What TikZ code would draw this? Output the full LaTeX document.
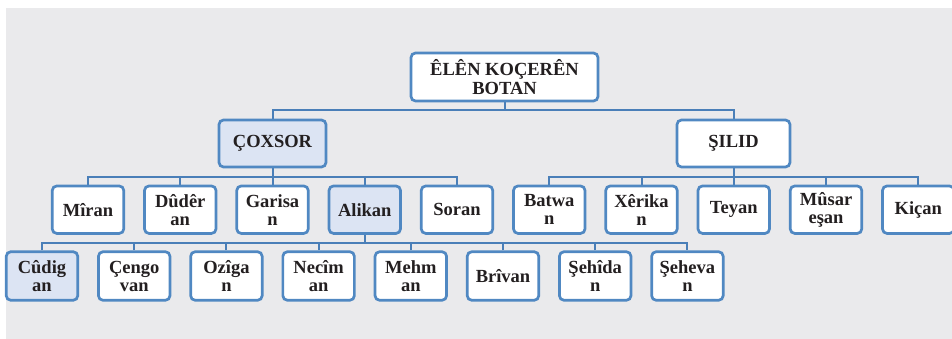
\documentclass[tikz,border=0pt]{standalone}
\usepackage{fontspec}
\setmainfont{Liberation Serif}
\usetikzlibrary{backgrounds}
\definecolor{panel}{HTML}{EAEAEC}
\definecolor{edge}{HTML}{5088C2}
\definecolor{wire}{HTML}{4A7FB8}
\definecolor{hilite}{HTML}{DCE4F3}
\definecolor{ink}{HTML}{231F20}
\tikzset{
  box/.style={draw=edge, line width=2.7pt, rounded corners=4.5pt, fill=white,
    align=center, inner sep=0pt, text=ink,
    font=\bfseries\fontsize{18.5}{18}\selectfont},
  small/.style={box, minimum width=71.5pt, minimum height=47.5pt},
  tinted/.style={fill=hilite},
  wire/.style={draw=wire, line width=2pt}
}
\begin{document}
\begin{tikzpicture}[x=1pt,y=-1pt]
\useasboundingbox (0,0) rectangle (952,339);

% root and first level
\node[box, minimum width=187pt, minimum height=48pt] (root) at (504.5,77) {ÊLÊN KOÇERÊN\\[1pt]BOTAN};
\node[box, tinted, minimum width=107pt, minimum height=47pt] (cox) at (272.5,143.5) {ÇOXSOR};
\node[box, minimum width=113pt, minimum height=47pt] (sil) at (733.5,143.5) {ŞILID};

% second level
\node[small] (miran) at (88,209.7) {Mîran};
\node[small] (duderan) at (180.25,209.7) {Dûdêr\\an};
\node[small] (garisan) at (272.5,209.7) {Garisa\\n};
\node[small, tinted] (alikan) at (364.75,209.7) {Alikan};
\node[small] (soran) at (457,209.7) {Soran};
\node[small] (batwan) at (549.25,209.7) {Batwa\\n};
\node[small] (xerikan) at (641.5,209.7) {Xêrika\\n};
\node[small] (teyan) at (733.75,209.7) {Teyan};
\node[small] (musaresan) at (826,209.7) {Mûsar\\eşan};
\node[small] (kican) at (918.25,209.7) {Kiçan};

% third level
\node[small, tinted, minimum height=48.5pt] (cudigan) at (42,276) {Cûdig\\an};
\node[small, minimum height=48.5pt] (cengovan) at (134.2,276) {Çengo\\van};
\node[small, minimum height=48.5pt] (ozigan) at (226.4,276) {Ozîga\\n};
\node[small, minimum height=48.5pt] (neciman) at (318.6,276) {Necîm\\an};
\node[small, minimum height=48.5pt] (mehman) at (410.8,276) {Mehm\\an};
\node[small, minimum height=48.5pt] (brivan) at (503,276) {Brîvan};
\node[small, minimum height=48.5pt] (sehidan) at (595.2,276) {Şehîda\\n};
\node[small, minimum height=48.5pt] (shevan) at (687.4,276) {Şeheva\\n};

\begin{pgfonlayer}{background}
  \fill[panel] (6,8) rectangle (952,339);
  % root to first level
  \draw[wire] (root.south) -- (root.south |- 0,110);
  \draw[wire] (cox.north) -- (cox.north |- 0,110) -| (sil.north);
  % first level to second level
  \draw[wire] (cox.south) -- (cox.south |- 0,176.7);
  \draw[wire] (miran.north) -- (miran.north |- 0,176.7) -| (soran.north);
  \foreach \n in {duderan,garisan,alikan}
    \draw[wire] (\n.north) -- (\n.north |- 0,176.7);
  \draw[wire] (sil.south) -- (sil.south |- 0,176.7);
  \draw[wire] (batwan.north) -- (batwan.north |- 0,176.7) -| (kican.north);
  \foreach \n in {xerikan,teyan,musaresan}
    \draw[wire] (\n.north) -- (\n.north |- 0,176.7);
  % Alikan to third level
  \draw[wire] (alikan.south) -- (alikan.south |- 0,242.7);
  \draw[wire] (cudigan.north) -- (cudigan.north |- 0,242.7) -| (shevan.north);
  \foreach \n in {cengovan,ozigan,neciman,mehman,brivan,sehidan}
    \draw[wire] (\n.north) -- (\n.north |- 0,242.7);
\end{pgfonlayer}
\end{tikzpicture}
\end{document}
